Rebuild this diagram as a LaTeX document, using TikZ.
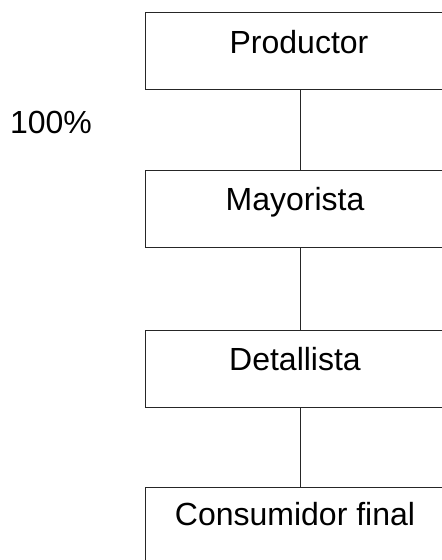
\documentclass[tikz,border=0pt]{standalone}
\usepackage{fontspec}
\setmainfont{Liberation Sans}
\begin{document}
\begin{tikzpicture}[x=1pt,y=-1pt,
  box/.style={draw=black!85,line width=0.9pt,minimum width=310pt,minimum height=77pt,inner sep=0pt,outer sep=0pt},
  lbl/.style={font=\fontsize{32}{36}\selectfont,anchor=base,inner sep=0pt},
  conn/.style={draw=black!85,line width=0.9pt}]
\useasboundingbox (0,0) rectangle (442,560);
\clip (0,0) rectangle (442,560);
\node[box] (prod) at (300,51) {};
\node[box] (may) at (300,208.5) {};
\node[box] (det) at (300,368.5) {};
\node[box,minimum height=80pt] (cons) at (300,527) {};
\node[lbl] (tprod) at (299,53) {Productor};
\node[lbl] (tmay) at (295,210) {Mayorista};
\node[lbl] (tdet) at (295,370) {Detallista};
\node[lbl] (tcons) at (295,525) {Consumidor final};
\node[lbl] (pct) at (51,133) {100\%};
\draw[conn] (prod.south) -- (may.north);
\draw[conn] (may.south) -- (det.north);
\draw[conn] (det.south) -- (cons.north);
\end{tikzpicture}
\end{document}
